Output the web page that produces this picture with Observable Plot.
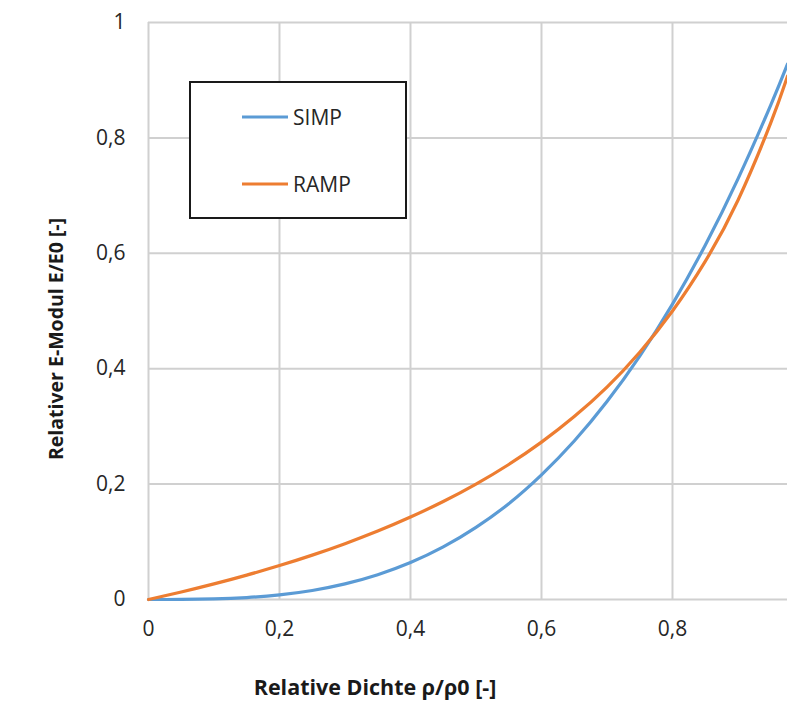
<!DOCTYPE html>
<html>
<head>
<meta charset="utf-8">
<script src="https://cdn.jsdelivr.net/npm/d3@7"></script>
<script src="https://cdn.jsdelivr.net/npm/@observablehq/plot@0.6"></script>
<style>
  html, body { margin: 0; padding: 0; background: #fff; }
  #wrap { position: relative; width: 787px; height: 704px; font-family: "Open Sans", sans-serif; }
  #legend { position: absolute; left: 189px; top: 81px; width: 214px; height: 134px; border: 2px solid #1a1a1a; background: #fff; box-sizing: content-box; }
  .item { position: absolute; left: 51px; display: flex; align-items: center; font-size: 21px; color: #262626; }
  .item svg { margin-right: 5px; }
  #ytitle { position: absolute; left: 56px; top: 339px; transform: translate(-50%, -50%) rotate(-90deg); white-space: nowrap; font-weight: bold; font-size: 19.5px; color: #1a1a1a; line-height: 1; }
</style>
</head>
<body>
<div id="wrap"></div>
<script>
const xDomainMax = 0.9756;
const xTicks = [0, 0.2, 0.4, 0.6, 0.8];
const yTicks = [0, 0.2, 0.4, 0.6, 0.8, 1];
const xTitle = "Relative Dichte ρ/ρ0 [-]";
const yTitle = "Relativer E-Modul E/E0 [-]";

const density = [0, 0.05, 0.1, 0.15, 0.2, 0.25, 0.3, 0.35, 0.4, 0.45, 0.5, 0.55, 0.6, 0.65, 0.7, 0.75, 0.8, 0.85, 0.9, 0.95, 0.9756];
const simp = [0, 0.0001, 0.001, 0.0034, 0.008, 0.0156, 0.027, 0.0429, 0.064, 0.0911, 0.125, 0.166, 0.216, 0.2746, 0.343, 0.4219, 0.512, 0.614, 0.729, 0.857, 0.928];
const ramp = [0, 0.013, 0.027, 0.0423, 0.0588, 0.0769, 0.0968, 0.1186, 0.1429, 0.1698, 0.2, 0.234, 0.2727, 0.317, 0.368, 0.4286, 0.5, 0.586, 0.692, 0.826, 0.907];

const seriesNames = ["SIMP", "RAMP"];
const seriesColors = ["#5B9BD5", "#ED7D31"];

const rows = [];
density.forEach((d, i) => {
  rows.push({x: d, y: simp[i], s: "SIMP"});
  rows.push({x: d, y: ramp[i], s: "RAMP"});
});

const fmt = d => String(d).replace(".", ",");

const chart = Plot.plot({
  width: 787,
  height: 704,
  marginLeft: 148,
  marginTop: 22,
  marginBottom: 105,
  marginRight: 0,
  style: { fontFamily: "Open Sans, sans-serif", fontSize: "21px", color: "#262626", overflow: "visible" },
  x: { domain: [0, xDomainMax], ticks: xTicks, tickFormat: fmt, tickSize: 0, tickPadding: 22, label: null },
  y: { domain: [0, 1], ticks: yTicks, tickFormat: fmt, tickSize: 0, tickPadding: 23, label: null },
  color: { domain: seriesNames, range: seriesColors },
  marks: [
    Plot.ruleX(xTicks, { stroke: "#d0d0d0", strokeWidth: 2 }),
    Plot.ruleY(yTicks, { stroke: "#d0d0d0", strokeWidth: 2 }),
    Plot.line(rows, { x: "x", y: "y", z: "s", stroke: "s", strokeWidth: 3.2, curve: "natural" }),
    Plot.text([xTitle], { frameAnchor: "bottom", dx: -93, dy: 89, textAnchor: "middle", fontWeight: "bold", fontSize: 21.5, fill: "#1a1a1a", lineAnchor: "middle" })
  ]
});

const wrap = document.getElementById("wrap");
wrap.appendChild(chart);

const yt = document.createElement("div");
yt.id = "ytitle";
yt.textContent = yTitle;
wrap.appendChild(yt);

const legend = document.createElement("div");
legend.id = "legend";
const tops = [35 - 15, 102 - 15];
seriesNames.forEach((n, i) => {
  const it = document.createElement("div");
  it.className = "item";
  it.style.top = tops[i] + "px";
  it.innerHTML = `<svg width="46" height="6"><line x1="0" y1="3" x2="46" y2="3" stroke="${seriesColors[i]}" stroke-width="3"/></svg><span>${n}</span>`;
  legend.appendChild(it);
});
wrap.appendChild(legend);
</script>
</body>
</html>
